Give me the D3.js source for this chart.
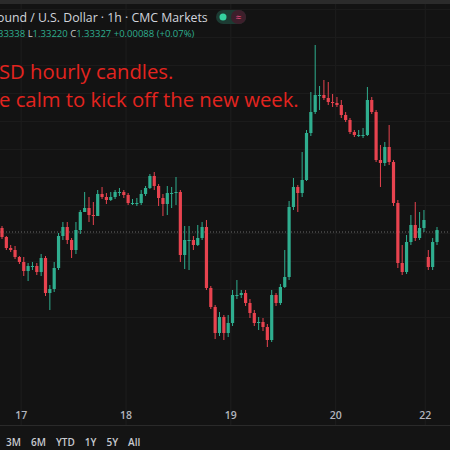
<!DOCTYPE html>
<html>
<head>
<meta charset="utf-8">
<script src="https://cdn.jsdelivr.net/npm/d3@7"></script>
<style>
  html, body { margin: 0; padding: 0; background: #131313; }
  svg { display: block; font-family: "Open Sans", "Noto Sans", sans-serif; }
</style>
</head>
<body>
<svg id="chart" width="450" height="450"></svg>
<script>
// GBP/USD hourly candles
const closes = [1.33302,1.33247,1.33237,1.33202,1.33177,1.33132,1.33157,1.33157,1.33127,1.33197,
  1.33022,1.33042,1.33147,1.33307,1.33352,1.33287,1.33237,1.33337,1.33427,1.33447,
  1.33412,1.33407,1.33517,1.33502,1.33487,1.33502,1.33527,1.33527,1.33512,1.33472,
  1.33472,1.33472,1.33517,1.33547,1.33607,1.33557,1.33497,1.33467,1.33522,1.33522,
  1.33527,1.33212,1.33287,1.33287,1.33262,1.33297,1.33352,1.33047,1.32952,1.32822,
  1.32902,1.32822,1.32872,1.33012,1.33012,1.33022,1.32972,1.32922,1.32872,1.32877,
  1.32852,1.32787,1.33012,1.32972,1.33052,1.33102,1.33452,1.33552,1.33522,1.33587,
  1.33822,1.33927,1.34012,1.34012,1.33997,1.33977,1.33972,1.33962,1.33912,1.33887,
  1.33827,1.33812,1.33812,1.33812,1.33987,1.33927,1.33687,1.33672,1.33752,1.33677,
  1.33472,1.33172,1.33127,1.33277,1.33362,1.33297,1.33347,1.33387,1.33152,1.33277,1.33337];
const highs = [1.33357,1.33307,1.33262,1.33257,1.33207,1.33202,1.33172,1.33177,1.33172,1.33217,
  1.33207,1.33062,1.33177,1.33322,1.33377,1.33377,1.33297,1.33377,1.33437,1.33527,
  1.33502,1.33477,1.33537,1.33552,1.33522,1.33527,1.33537,1.33547,1.33537,1.33522,
  1.33492,1.33497,1.33537,1.33557,1.33617,1.33627,1.33567,1.33517,1.33557,1.33552,
  1.33602,1.33537,1.33357,1.33357,1.33307,1.33362,1.33377,1.33387,1.33057,1.32962,
  1.32927,1.32912,1.32912,1.33037,1.33087,1.33037,1.33037,1.32992,1.32937,1.32902,
  1.32897,1.32867,1.33037,1.33022,1.33067,1.33237,1.33482,1.33597,1.33562,1.33727,
  1.33837,1.34027,1.34262,1.34057,1.34087,1.34077,1.34017,1.34002,1.33987,1.33927,
  1.33897,1.33837,1.33837,1.33847,1.34052,1.34002,1.33937,1.33762,1.33777,1.33862,
  1.33687,1.33487,1.33262,1.33312,1.33412,1.33477,1.33427,1.33437,1.33237,1.33297,1.33352];
const lows = [1.33292,1.33237,1.33227,1.33192,1.33167,1.33107,1.33082,1.33137,1.33112,1.33107,
  1.33007,1.32937,1.33027,1.33137,1.33287,1.33267,1.33197,1.33217,1.33317,1.33427,
  1.33377,1.33362,1.33417,1.33492,1.33467,1.33482,1.33492,1.33507,1.33497,1.33462,
  1.33462,1.33457,1.33462,1.33507,1.33542,1.33537,1.33457,1.33407,1.33412,1.33447,
  1.33462,1.33177,1.33142,1.33137,1.33237,1.33257,1.33287,1.33037,1.32942,1.32792,
  1.32807,1.32787,1.32802,1.32857,1.32992,1.32997,1.32957,1.32897,1.32857,1.32837,
  1.32832,1.32752,1.32777,1.32957,1.32962,1.33047,1.33087,1.33437,1.33427,1.33502,
  1.33582,1.33807,1.33917,1.33937,1.33987,1.33962,1.33952,1.33952,1.33897,1.33877,
  1.33817,1.33802,1.33802,1.33797,1.33807,1.33917,1.33677,1.33552,1.33657,1.33662,
  1.33457,1.33147,1.33112,1.33117,1.33262,1.33282,1.33287,1.33327,1.33137,1.33137,1.33262];
// opens follow the previous close, except where a gap shows
const openGaps = { 0: 1.33347, 98: 1.33202 };
const dayTickIdx = [4.4, 28.5, 52.6, 76.7, 97.3];
const dayTickLabels = ["17", "18", "19", "20", "22"];
const rangeButtons = ["3M", "6M", "YTD", "1Y", "5Y", "All"];
const lastClose = 1.33327;

const candles = closes.map((c, i) => {
  const o = openGaps[i] !== undefined ? openGaps[i] : closes[i - 1];
  return { i, o, c, h: Math.max(highs[i], o, c), l: Math.min(lows[i], o, c) };
});

const svg = d3.select('#chart');
const W = 450, H = 450;
const UP = '#2fae8f', DOWN = '#e8434f';

svg.append('rect').attr('width', W).attr('height', H).attr('fill', '#131313');
svg.append('rect').attr('width', W).attr('height', 4).attr('fill', '#2b2b2b');

const x = d3.scaleLinear().domain([0, 100]).range([2, 437]);
// price 1.34487 sits at the top edge, 0.00005 per pixel
const y = d3.scaleLinear().domain([1.34487, 1.32237]).range([0, 450]);

// grid
const grid = svg.append('g');
grid.selectAll('line.v').data(dayTickIdx).join('line')
  .attr('x1', d => x(d)).attr('x2', d => x(d))
  .attr('y1', 4).attr('y2', 425)
  .attr('stroke', '#1e1e1e');
grid.selectAll('line.h').data(d3.range(1.3290, 1.3445, 0.0014)).join('line')
  .attr('x1', 0).attr('x2', W)
  .attr('y1', d => y(d)).attr('y2', d => y(d))
  .attr('stroke', '#1c1c1c');
svg.append('line')
  .attr('x1', 0).attr('x2', W)
  .attr('y1', y(lastClose)).attr('y2', y(lastClose))
  .attr('stroke', '#6b6b6b').attr('stroke-dasharray', '1,2');

// candles
const cg = svg.append('g');
cg.selectAll('line').data(candles).join('line')
  .attr('x1', d => x(d.i)).attr('x2', d => x(d.i))
  .attr('y1', d => y(d.h)).attr('y2', d => y(d.l))
  .attr('stroke', d => d.c >= d.o ? UP : DOWN).attr('stroke-width', 1);
cg.selectAll('rect').data(candles).join('rect')
  .attr('x', d => x(d.i) - 1.6).attr('width', 3.2)
  .attr('y', d => y(Math.max(d.o, d.c)))
  .attr('height', d => Math.max(1, Math.abs(y(d.o) - y(d.c))))
  .attr('fill', d => d.c >= d.o ? UP : DOWN);

// header
svg.append('text').attr('x', -3).attr('y', 22)
  .attr('fill', '#d1d4dc').attr('font-size', 12.3)
  .text('ound / U.S. Dollar · 1h · CMC Markets');
const badge = svg.append('g').attr('transform', 'translate(216,17)');
badge.append('rect').attr('x', 0).attr('y', -7).attr('width', 30).attr('height', 14).attr('rx', 7).attr('fill', '#1d3b33');
badge.append('rect').attr('x', 15).attr('y', -7).attr('width', 15).attr('height', 14).attr('rx', 7).attr('fill', '#3d1f2b');
badge.append('circle').attr('cx', 7).attr('cy', 0).attr('r', 3.5).attr('fill', '#35d1a0');
badge.append('text').attr('x', 22.5).attr('y', 3.5).attr('text-anchor', 'middle')
  .attr('fill', '#e0487a').attr('font-size', 10).text('≈');

const ohlc = svg.append('text').attr('x', -2).attr('y', 37).attr('font-size', 9.5);
[['33338 ', UP], ['L', '#c8c8c8'], ['1.33220 ', UP], ['C', '#c8c8c8'], ['1.33327 ', UP], [' +0.00088 (+0.07%)', UP]]
  .forEach(([t, col]) => ohlc.append('tspan').attr('fill', col).text(t));

// annotation
svg.append('text').attr('x', -1).attr('y', 79).attr('fill', '#e3241f').attr('font-size', 20.3)
  .text('SD hourly candles.');
svg.append('text').attr('x', -1).attr('y', 107).attr('fill', '#e3241f').attr('font-size', 20.3)
  .text('e calm to kick off the new week.');

// time axis
svg.selectAll('text.day').data(dayTickIdx).join('text')
  .attr('x', d => x(d)).attr('y', 419).attr('text-anchor', 'middle')
  .attr('fill', '#b2b5be').attr('font-size', 10.5).attr('font-weight', 600)
  .text((d, i) => dayTickLabels[i]);
svg.append('rect').attr('x', 0).attr('y', 425).attr('width', W).attr('height', 25).attr('fill', '#141414');
svg.append('line').attr('x1', 0).attr('x2', W).attr('y1', 425.5).attr('y2', 425.5).attr('stroke', '#2a2a2a');

let bx = 6;
rangeButtons.forEach(b => {
  const t = svg.append('text').attr('x', bx).attr('y', 446)
    .attr('fill', '#c7c9cf').attr('font-size', 10).attr('font-weight', 600).text(b);
  bx += t.node().getComputedTextLength() + 10;
});
</script>
</body>
</html>
